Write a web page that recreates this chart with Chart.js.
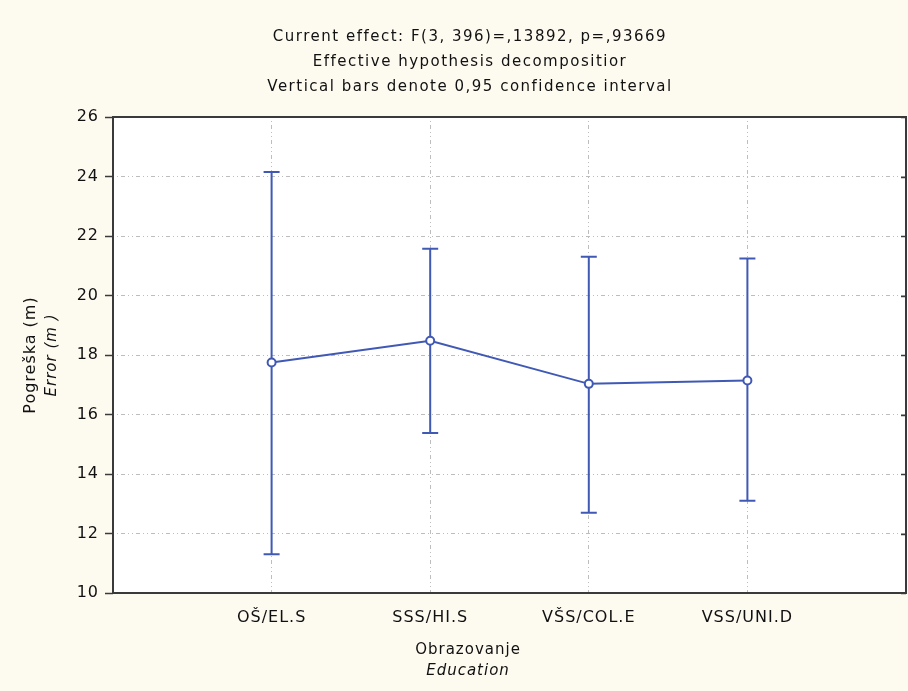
<!DOCTYPE html>
<html>
<head>
<meta charset="utf-8">
<script src="https://cdn.jsdelivr.net/npm/chart.js@4/dist/chart.umd.min.js"></script>
<style>
  html, body { margin: 0; padding: 0; background: #fdfaf0; }
  canvas { display: block; }
</style>
</head>
<body>
<canvas id="effectChart" width="908" height="691"></canvas>
<script>
const categories = ['OŠ/EL.S', 'SSS/HI.S', 'VŠS/COL.E', 'VSS/UNI.D'];
const means = [17.75, 18.48, 17.03, 17.14];
const upperCI = [24.15, 21.57, 21.3, 21.24];
const lowerCI = [11.3, 15.38, 12.7, 13.1];
const yTicks = [10, 12, 14, 16, 18, 20, 22, 24, 26];

const titleLines = [
    'Current effect: F(3, 396)=,13892, p=,93669',
    'Effective hypothesis decompositior',
    'Vertical bars denote 0,95 confidence interval'
];

const blue = '#4059b4';
const fontFamily = '"DejaVu Sans", "Liberation Sans", sans-serif';

// letter spacing to imitate the wide bitmap font
const spacing = {
    id: 'spacing',
    beforeLayout(chart) { chart.ctx.letterSpacing = '1px'; },
    beforeDraw(chart) { chart.ctx.letterSpacing = '1px'; }
};

// white plot area + frame
const plotFrame = {
    id: 'plotFrame',
    beforeDraw(chart) {
        const { ctx, chartArea: a } = chart;
        ctx.save();
        ctx.fillStyle = '#ffffff';
        ctx.fillRect(a.left, a.top, a.right - a.left, a.bottom - a.top);
        ctx.restore();
    },
    afterDraw(chart) {
        const { ctx, chartArea: a } = chart;
        ctx.save();
        ctx.strokeStyle = '#3a3a3a';
        ctx.lineWidth = 2;
        ctx.strokeRect(a.left, a.top, a.right - a.left, a.bottom - a.top);
        // small inward ticks on the right edge
        const y = chart.scales.y;
        ctx.lineWidth = 1.5;
        ctx.beginPath();
        yTicks.forEach(v => {
            const py = Math.round(y.getPixelForValue(v)) + 0.5;
            ctx.moveTo(a.right, py);
            ctx.lineTo(a.right - 5, py);
        });
        ctx.stroke();
        ctx.restore();
    }
};

// confidence interval whiskers
const errorBars = {
    id: 'errorBars',
    beforeDatasetsDraw(chart) {
        const { ctx, scales: { x, y } } = chart;
        ctx.save();
        ctx.strokeStyle = blue;
        ctx.lineWidth = 2;
        categories.forEach((c, i) => {
            const px = x.getPixelForValue(i + 1);
            const top = y.getPixelForValue(upperCI[i]);
            const bot = y.getPixelForValue(lowerCI[i]);
            ctx.beginPath();
            ctx.moveTo(px, top);
            ctx.lineTo(px, bot);
            ctx.moveTo(px - 8, top);
            ctx.lineTo(px + 8, top);
            ctx.moveTo(px - 8, bot);
            ctx.lineTo(px + 8, bot);
            ctx.stroke();
        });
        ctx.restore();
    }
};

// title and two-line axis titles (second line italic)
const texts = {
    id: 'texts',
    afterDraw(chart) {
        const { ctx, chartArea: a } = chart;
        ctx.save();
        ctx.fillStyle = '#111';
        ctx.textAlign = 'center';
        ctx.textBaseline = 'middle';
        ctx.letterSpacing = '1.5px';
        ctx.font = '15px ' + fontFamily;
        titleLines.forEach((t, i) => ctx.fillText(t, 470, 37 + i * 25));

        ctx.letterSpacing = '1px';
        ctx.font = '15px ' + fontFamily;
        ctx.fillText('Obrazovanje', 468, 650);
        ctx.font = 'italic 15px ' + fontFamily;
        ctx.fillText('Education', 468, 671);

        const cy = (a.top + a.bottom) / 2;
        ctx.translate(31, cy);
        ctx.rotate(-Math.PI / 2);
        ctx.font = '16px ' + fontFamily;
        ctx.fillText('Pogreška (m)', 0, 0);
        ctx.font = 'italic 15px ' + fontFamily;
        ctx.fillText('Error (m )', 0, 21);
        ctx.restore();
    }
};

new Chart(document.getElementById('effectChart'), {
    type: 'line',
    data: {
        datasets: [{
            data: means.map((m, i) => ({ x: i + 1, y: m })),
            borderColor: blue,
            borderWidth: 2,
            tension: 0,
            pointRadius: 4,
            pointBorderWidth: 2,
            pointBackgroundColor: '#ffffff',
            pointBorderColor: blue
        }]
    },
    options: {
        responsive: false,
        animation: false,
        layout: { autoPadding: false, padding: { top: 117, right: 2, left: 0, bottom: 0 } },
        plugins: {
            legend: { display: false },
            tooltip: { enabled: false }
        },
        scales: {
            x: {
                type: 'linear',
                min: 0,
                max: 5,
                afterBuildTicks: (scale) => {
                    scale.ticks = categories.map((c, i) => ({ value: i + 1 }));
                },
                afterFit: (scale) => {
                    scale.height = 98;
                    scale.paddingLeft = 0;
                    scale.paddingRight = 0;
                },
                ticks: {
                    callback: (v) => categories[v - 1],
                    color: '#111',
                    padding: 15,
                    maxRotation: 0,
                    autoSkip: false,
                    font: { family: fontFamily, size: 16 }
                },
                grid: {
                    color: '#bdbdbd',
                    drawTicks: false
                },
                border: { display: false, dash: [1, 3, 1, 3, 4, 3] }
            },
            y: {
                min: 10,
                max: 26,
                afterBuildTicks: (scale) => {
                    scale.ticks = yTicks.map(v => ({ value: v }));
                },
                afterFit: (scale) => { scale.width = 113; },
                ticks: {
                    color: '#111',
                    padding: 6,
                    font: { family: fontFamily, size: 16 }
                },
                grid: {
                    color: (ctx) => (ctx.tick && (ctx.tick.value === 10 || ctx.tick.value === 26)) ? 'rgba(0,0,0,0)' : '#bdbdbd',
                    tickColor: '#3a3a3a',
                    tickLength: 8,
                    tickWidth: 1.5,
                    tickBorderDash: []
                },
                border: { display: false, dash: [1, 3, 1, 3, 4, 3] }
            }
        }
    },
    plugins: [spacing, plotFrame, errorBars, texts]
});
</script>
</body>
</html>
